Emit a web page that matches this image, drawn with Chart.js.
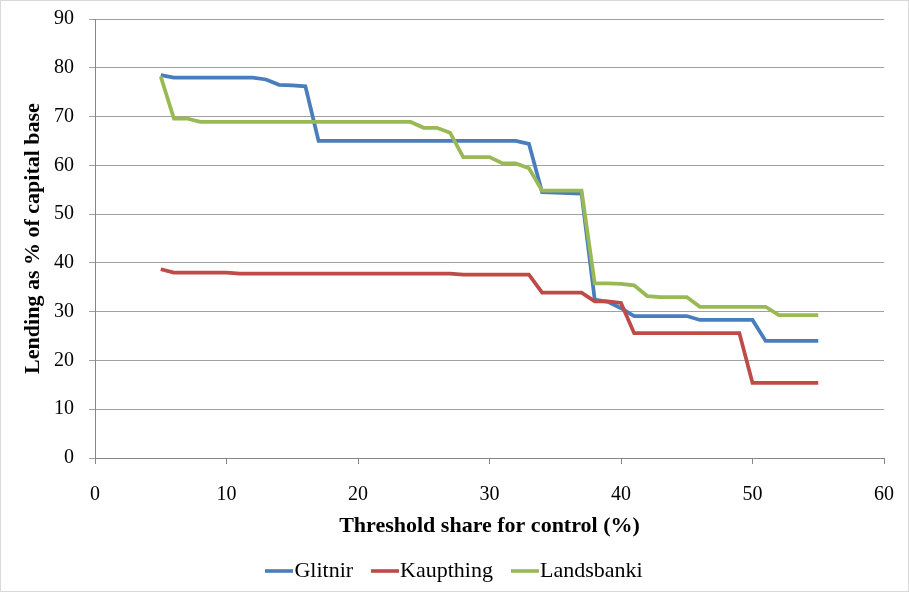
<!DOCTYPE html>
<html>
<head>
<meta charset="utf-8">
<script src="https://cdn.jsdelivr.net/npm/chart.js@4/dist/chart.umd.min.js"></script>
<style>
  html, body { margin: 0; padding: 0; background: #ffffff; }
  #wrap { width: 909px; height: 592px; }
</style>
</head>
<body>
<div id="wrap"><canvas id="c" width="909" height="592"></canvas></div>
<script>
const thresholds = [5,6,7,8,9,10,11,12,13,14,15,16,17,18,19,20,21,22,23,24,25,26,27,28,29,30,31,32,33,34,35,36,37,38,39,40,41,42,43,44,45,46,47,48,49,50,51,52,53,54,55];

const glitnir = [78.5,78.0,78.0,78.0,78.0,78.0,78.0,78.0,77.6,76.5,76.4,76.2,
  65.0,65.0,65.0,65.0,65.0,65.0,65.0,65.0,65.0,65.0,65.0,65.0,65.0,65.0,65.0,65.0,
  64.4,54.5,54.4,54.3,54.2,
  32.5,32.0,30.7,
  29.1,29.1,29.1,29.1,29.1,
  28.3,28.3,28.3,28.3,28.3,
  24.0,24.0,24.0,24.0,24.0];

const kaupthing = [38.7,
  38.0,38.0,38.0,38.0,38.0,
  37.8,37.8,37.8,37.8,37.8,37.8,37.8,37.8,37.8,37.8,37.8,37.8,37.8,37.8,37.8,37.8,37.8,
  37.6,37.6,37.6,37.6,37.6,37.6,
  33.9,33.9,33.9,33.9,
  32.1,32.1,31.8,
  25.6,25.6,25.6,25.6,25.6,25.6,25.6,25.6,25.6,
  15.4,15.4,15.4,15.4,15.4,15.4];

const landsbanki = [78.2,69.6,69.6,
  68.9,68.9,68.9,68.9,68.9,68.9,68.9,68.9,68.9,68.9,68.9,68.9,68.9,68.9,68.9,68.9,68.9,
  67.7,67.7,66.7,
  61.7,61.7,61.7,
  60.4,60.4,59.4,
  54.8,54.8,54.8,54.8,
  35.8,35.8,35.7,35.4,33.2,
  33.0,33.0,33.0,
  31.0,31.0,31.0,31.0,31.0,31.0,
  29.3,29.3,29.3,29.3];

const seriesNames = ["Glitnir", "Kaupthing", "Landsbanki"];
const seriesColors = ["#4a7ebb", "#be4b48", "#98b954"];
const xTitle = "Threshold share for control (%)";
const yTitle = "Lending as % of capital base";

const FONT = "'Liberation Serif', 'Times New Roman', serif";

function pts(vals) { return thresholds.map((x, i) => ({ x: x, y: vals[i] })); }

// legend swatch: short horizontal line image
function swatch(color) {
  const cv = document.createElement('canvas');
  cv.width = 28; cv.height = 4;
  const g = cv.getContext('2d');
  g.fillStyle = color;
  g.fillRect(0, 0.2, 28, 3.6);
  return cv;
}

const allSeries = [glitnir, kaupthing, landsbanki];
const datasets = allSeries.map((vals, i) => ({
  label: seriesNames[i],
  data: pts(vals),
  borderColor: seriesColors[i],
  backgroundColor: seriesColors[i],
  borderWidth: 3.75,
  pointRadius: 0,
  pointHoverRadius: 0,
  pointStyle: swatch(seriesColors[i]),
  tension: 0,
  fill: false,
  order: 2 - i
}));

const frame = {
  id: 'frame',
  beforeDraw(chart) {
    const ctx = chart.ctx;
    ctx.save();
    ctx.fillStyle = '#ffffff';
    ctx.fillRect(0, 0, chart.width, chart.height);
    ctx.strokeStyle = '#d9d9d9';
    ctx.lineWidth = 1;
    ctx.strokeRect(0.5, 0.5, chart.width - 1, chart.height - 1);
    ctx.restore();
  }
};

// center the legend row under the whole figure
const legendShift = {
  id: 'legendShift',
  afterLayout(chart) {
    if (chart.legend) { chart.legend.left += 17; chart.legend.right += 17; }
  }
};

new Chart(document.getElementById('c'), {
  type: 'line',
  data: { datasets: datasets },
  plugins: [frame, legendShift],
  options: {
    responsive: false,
    animation: false,
    devicePixelRatio: 1,
    layout: { padding: { left: 0, right: 25, top: 19, bottom: 0 } },
    plugins: {
      tooltip: { enabled: false },
      legend: {
        position: 'bottom',
        labels: {
          usePointStyle: true,
          pointStyleWidth: 8,
          padding: 28,
          color: '#000',
          font: { family: FONT, size: 22 },
          sort: (a, b) => a.datasetIndex - b.datasetIndex
        }
      }
    },
    scales: {
      x: {
        type: 'linear',
        min: 0, max: 60,
        afterFit(scale) { scale.height = 74; scale.paddingLeft = 0; scale.paddingRight = 0; },
        ticks: { stepSize: 10, color: '#000', padding: 19, font: { family: FONT, size: 20 }, maxRotation: 0 },
        grid: { drawOnChartArea: false, drawTicks: true, tickLength: 6, color: '#868686' },
        border: { color: '#868686', width: 1 },
        title: { display: true, text: xTitle, color: '#000', font: { family: FONT, size: 22, weight: 'bold' }, padding: { top: 0, bottom: -8 } }
      },
      y: {
        min: 0, max: 90,
        afterFit(scale) { scale.width = 95; scale.paddingTop = 12; scale.paddingBottom = 12; },
        ticks: { stepSize: 10, color: '#000', padding: 15, font: { family: FONT, size: 20 } },
        grid: { color: '#a0a0a0', tickLength: 6, drawTicks: true },
        border: { color: '#868686', width: 1 },
        title: { display: true, text: yTitle, color: '#000', font: { family: FONT, size: 22, weight: 'bold' }, padding: { top: 20, bottom: 0 } }
      }
    }
  }
});
</script>
</body>
</html>
